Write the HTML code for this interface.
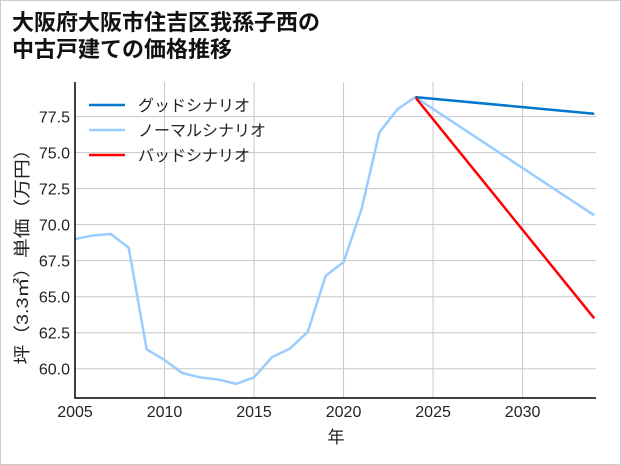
<!DOCTYPE html>
<html><head><meta charset="utf-8">
<style>
html,body{margin:0;padding:0;background:#fff;}
body{width:621px;height:465px;overflow:hidden;font-family:"Liberation Sans","Noto Sans CJK JP",sans-serif;}
#frame{position:absolute;left:0;top:0;width:619px;height:463px;border:1px solid #ccc;}
</style></head>
<body>
<div id="frame"></div>
<svg id="chart" width="621" height="465" style="position:absolute;left:0;top:0">
<text x="12" y="30" font-size="22" font-weight="bold" fill="#111" font-family="Liberation Sans,Noto Sans CJK JP,sans-serif">大阪府大阪市住吉区我孫子西の</text>
<text x="12" y="57" font-size="22" font-weight="bold" fill="#111" font-family="Liberation Sans,Noto Sans CJK JP,sans-serif">中古戸建ての価格推移</text>
<g id="grid"></g><g id="series"></g><g id="axes"></g><g id="legend"></g>
<text x="336" y="443" font-size="17" text-anchor="middle" fill="#222" font-family="Liberation Sans,Noto Sans CJK JP,sans-serif">年</text>
<text transform="translate(28,252) rotate(-90)" font-size="17" text-anchor="middle" textLength="225" lengthAdjust="spacingAndGlyphs" fill="#222" font-family="Liberation Sans,Noto Sans CJK JP,sans-serif">坪（3.3㎡）単価（万円）</text>
</svg>
<script>
const histYears=[2005,2006,2007,2008,2009,2010,2011,2012,2013,2014,2015,2016,2017,2018,2019,2020,2021,2022,2023,2024];
const histValues=[69.0,69.25,69.35,68.4,61.35,60.6,59.7,59.4,59.25,58.95,59.4,60.8,61.4,62.55,66.45,67.4,71.05,76.4,78.0,78.85];
const futureYears=[2024,2034];
const goodValues=[78.85,77.7];
const normalValues=[78.85,70.65];
const badValues=[78.85,63.5];
const xTicks=[2005,2010,2015,2020,2025,2030];
const yTicks=[60.0,62.5,65.0,67.5,70.0,72.5,75.0,77.5];
const legendLabels=["グッドシナリオ","ノーマルシナリオ","バッドシナリオ"];

const L=75,R=596,T=82,B=398, X0=2005,X1=2034.1,Y0=57.97,Y1=79.9;
const sx=v=>L+(v-X0)/(X1-X0)*(R-L);
const sy=v=>B-(v-Y0)/(Y1-Y0)*(B-T);
const NS="http://www.w3.org/2000/svg";
function mk(tag,attrs,parent){const e=document.createElementNS(NS,tag);for(const k in attrs)e.setAttribute(k,attrs[k]);document.getElementById(parent).appendChild(e);return e;}
const font="Liberation Sans,Noto Sans CJK JP,sans-serif";
xTicks.forEach(t=>{
  const g=mk('line',{x1:sx(t),x2:sx(t),y1:T,y2:B,stroke:'#c8c8c8','stroke-width':1},'grid');
  
  
  const lb=mk('text',{x:sx(t),y:B+19,'font-size':16,'text-anchor':'middle',fill:'#222','font-family':font},'axes');lb.textContent=t;
  
  
});
yTicks.forEach(t=>{
  const g=mk('line',{x1:L,x2:R,y1:sy(t),y2:sy(t),stroke:'#c8c8c8','stroke-width':1},'grid');
  
  
  const lb=mk('text',{x:L-5,y:sy(t)+6,'font-size':16,'text-anchor':'end',fill:'#222','font-family':font},'axes');lb.textContent=t.toFixed(1);
  
  
});
const ax=mk('path',{d:`M${L},${T}V${B}H${R}`,fill:'none',stroke:'#000','stroke-width':1.5},'axes');


function line(xs,ys,color,name){
  const p=mk('polyline',{points:xs.map((x,i)=>sx(x)+','+sy(ys[i])).join(' '),fill:'none',stroke:color,'stroke-width':2.5,'stroke-linejoin':'round'},'series');
  
  
}
line(futureYears,normalValues,'#99ccff','normal-scenario-line');
line(futureYears,goodValues,'#0077cc','good-scenario-line');
line(futureYears,badValues,'#ff0000','bad-scenario-line');
line(histYears,histValues,'#99ccff','historical-line');
const colors=['#0077cc','#99ccff','#ff0000'];
legendLabels.forEach((s,i)=>{
  const y=105+i*25;
  const l=mk('line',{x1:89,x2:125,y1:y,y2:y,stroke:colors[i],'stroke-width':2.5},'legend');
  
  
  const t=mk('text',{x:138,y:y+6,'font-size':16,fill:'#222','font-family':font},'legend');t.textContent=s;
  
  
});
</script>
</body></html>
